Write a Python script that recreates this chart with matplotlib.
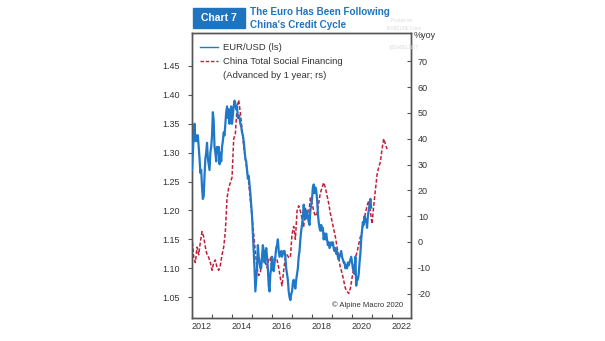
import numpy as np
import matplotlib.pyplot as plt
from matplotlib.lines import Line2D
from matplotlib.patches import Rectangle

plt.rcParams['font.family'] = ['Liberation Sans', 'DejaVu Sans']
plt.rcParams['axes.unicode_minus'] = False

# EUR/USD, twice a month from Jan 2012 (left scale)
eur = [1.27, 1.30, 1.33, 1.35, 1.32, 1.33, 1.32, 1.33, 1.31, 1.29, 1.265, 1.27,
       1.24, 1.22, 1.225, 1.26, 1.29, 1.30, 1.317, 1.29, 1.28, 1.27, 1.30, 1.31,
       1.33, 1.37, 1.355, 1.31, 1.30, 1.285, 1.31, 1.30, 1.31, 1.28, 1.30, 1.285,
       1.31, 1.32, 1.335, 1.33, 1.35, 1.37, 1.38, 1.36, 1.375, 1.35, 1.37, 1.38,
       1.35, 1.365, 1.38, 1.39, 1.385, 1.375, 1.38, 1.36, 1.365, 1.36, 1.35, 1.345,
       1.335, 1.33, 1.32, 1.305, 1.29, 1.285, 1.27, 1.255, 1.26, 1.245, 1.23, 1.21,
       1.19, 1.16, 1.13, 1.10, 1.06, 1.08, 1.10, 1.14, 1.12, 1.11, 1.10, 1.10,
       1.12, 1.14, 1.13, 1.11, 1.12, 1.135, 1.12, 1.10, 1.07, 1.06, 1.09, 1.10,
       1.12, 1.10, 1.095, 1.11, 1.12, 1.135, 1.14, 1.15, 1.13, 1.12, 1.125, 1.13,
       1.12, 1.125, 1.13, 1.13, 1.12, 1.10, 1.09, 1.08, 1.06, 1.05, 1.045, 1.055,
       1.06, 1.075, 1.08, 1.07, 1.065, 1.08, 1.09, 1.10, 1.12, 1.13, 1.15, 1.165,
       1.175, 1.19, 1.21, 1.195, 1.185, 1.19, 1.20, 1.19, 1.18, 1.175, 1.20, 1.21,
       1.22, 1.24, 1.245, 1.23, 1.24, 1.235, 1.22, 1.195, 1.18, 1.17, 1.165, 1.175,
       1.165, 1.17, 1.15, 1.16, 1.15, 1.16, 1.15, 1.14, 1.145, 1.135, 1.14, 1.145,
       1.14, 1.145, 1.135, 1.13, 1.135, 1.125, 1.13, 1.12, 1.115, 1.12, 1.125, 1.13,
       1.12, 1.115, 1.11, 1.11, 1.10, 1.105, 1.10, 1.11, 1.105, 1.11, 1.115, 1.12,
       1.11, 1.10, 1.095, 1.09, 1.12, 1.07, 1.085, 1.08, 1.09, 1.11, 1.125, 1.15,
       1.165, 1.18, 1.175, 1.19, 1.18, 1.185, 1.17, 1.19, 1.20, 1.21, 1.22, 1.205]

# China total social financing, %yoy, monthly, shifted forward 12 months (right scale)
tsf = [2, -6, -8, -2, -5, 0, 4, 2, -2, -5, -6, -8,
       -11, -8, -7, -10, -11, -9, -5, -2, 4, 17, 21, 23,
       25, 40, 42, 52, 55, 50, 44, 37, 32, 28, 23, 16,
       10, 3, -4, -10, -13, -12, -5, -3, -8, -10, -7, -6,
       -11, -7, -6, -7, -10, -14, -17, -11, -6, -5, -6, -6,
       3, 6, 1, 12, 14, 12, 9, 6, 13, 9, 11, 17,
       15, 12, 10, 11, 15, 19, 21, 23, 21, 18, 15, 11,
       8, 5, 2, -2, -6, -10, -12, -15, -18, -19, -20, -18,
       -14, -10, -6, -4, -1, 2, 4, 8, 11, 14, 16, 12,
       7, 14, 20, 26, 29, 31, 36, 40, 38, 36]

years = list(range(2012, 2023))
left_ticks = [1.05, 1.10, 1.15, 1.20, 1.25, 1.30, 1.35, 1.40, 1.45]
right_ticks = [-20, -10, 0, 10, 20, 30, 40, 50, 60, 70]

t_eur = 2012 + np.arange(len(eur)) / 24
t_tsf = 2012 + np.arange(len(tsf)) / 12

blue = '#1f78c8'
red = '#c21f3a'
grey = '#555555'
txt = '#333333'
title_blue = '#1f74c0'

fig = plt.figure(figsize=(6.05, 3.41), dpi=100)
ax = fig.add_axes([0.3174, 0.0674, 0.362, 0.8358])
ax2 = ax.twinx()

ax.plot(t_eur, eur, color=blue, lw=1.6, zorder=3)
ax2.plot(t_tsf, tsf, color=red, lw=1.1, dashes=(2.5, 1.3))
ax.set_zorder(ax2.get_zorder() + 1)
ax.patch.set_visible(False)

ax.set_xlim(2012, 2022.95)
ax.set_ylim(1.014, 1.507)
ax2.set_ylim(-29.5, 81)

ax.set_xticks(years)
ax.set_xticklabels([])
ax.set_xticks([y + 0.5 for y in years[::2]], minor=True)
ax.set_xticklabels([str(y) for y in years[::2]], minor=True)
ax.tick_params(axis='x', which='major', direction='in', length=3, color=grey, width=0.8)
ax.tick_params(axis='x', which='minor', length=0, labelsize=6.5, labelcolor=txt, pad=3)

ax.set_yticks(left_ticks)
ax.set_yticklabels(['%.2f' % v for v in left_ticks])
ax.tick_params(axis='y', direction='out', length=3, color=grey, width=0.8,
               labelsize=6.5, labelcolor=txt, pad=6)
ax2.set_yticks(right_ticks)
ax2.tick_params(axis='y', direction='in', length=3, color=grey, width=0.8,
                labelsize=6.5, labelcolor=txt, pad=5)

for a in (ax, ax2):
    for s in a.spines.values():
        s.set_color(grey)
        s.set_linewidth(1.0)

handles = [Line2D([], [], color=blue, lw=1.0),
           Line2D([], [], color=red, lw=1.0, dashes=(2.5, 1.3)),
           Line2D([], [], color='none')]
labels = ['EUR/USD (ls)', 'China Total Social Financing', '(Advanced by 1 year; rs)']
ax.legend(handles, labels, loc='upper left', bbox_to_anchor=(0.0, 0.99), frameon=False,
          fontsize=6.8, handlelength=2.0, handletextpad=0.5, labelspacing=0.5,
          borderaxespad=0.4, labelcolor=txt)

ax.text(0.965, 0.045, '\u00a9 Alpine Macro 2020', transform=ax.transAxes,
        ha='right', va='center', fontsize=5.5, color=txt)
ax2.text(1.01, 0.99, '%yoy', transform=ax2.transAxes, ha='left', va='center',
         fontsize=6.5, color=txt)

# header
fig.patches.append(Rectangle((193 / 605, 1 - 28 / 341), 52 / 605, 20 / 341,
                             transform=fig.transFigure, color=title_blue, zorder=0))
fig.text(219 / 605, 1 - 18 / 341, 'Chart 7', ha='center', va='center',
         fontsize=7.5, color='white', weight='bold')
fig.text(250 / 605, 1 - 12 / 341, 'The Euro Has Been Following', ha='left', va='center',
         fontsize=7.1, color=title_blue, weight='bold')
fig.text(250 / 605, 1 - 25 / 341, "China's Credit Cycle", ha='left', va='center',
         fontsize=7.1, color=title_blue, weight='bold')

# faint source stamp
for x, y, s in [(402, 21, 'Posted on'), (404, 28, 'ISABELNET.com'), (404, 47, '@ISABELNET')]:
    fig.text(x / 605, 1 - y / 341, s, ha='center', va='center', fontsize=3.3, color='#dadada')

fig.savefig('out.png', dpi=100)
